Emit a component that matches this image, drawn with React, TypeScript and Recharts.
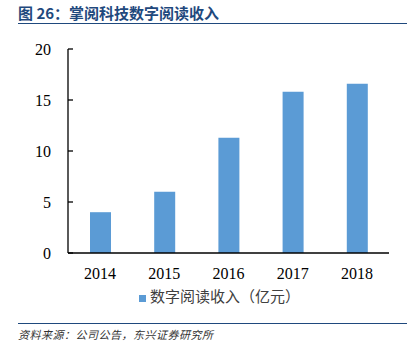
import { Bar, BarChart, Legend, XAxis, YAxis } from "recharts";

const years = ["2014", "2015", "2016", "2017", "2018"];
const revenue = [4.0, 6.0, 11.3, 15.8, 16.6];
const yTicks = [0, 5, 10, 15, 20];

const data = years.map((year, i) => ({ year, revenue: revenue[i] }));

const serif = "'Liberation Serif', 'Times New Roman', serif";
const cjk = "'Noto Sans CJK SC', sans-serif";

export default function App() {
  return (
    <div
      style={{
        position: "absolute",
        left: 0,
        top: 0,
        width: 417,
        height: 355,
        background: "#fff",
        overflow: "hidden",
      }}
    >
      <div
        style={{
          position: "absolute",
          left: 18,
          top: 2,
          fontFamily: cjk,
          fontWeight: 700,
          fontSize: 15,
          color: "#1F497D",
          whiteSpace: "nowrap",
        }}
      >
        图 26：掌阅科技数字阅读收入
      </div>
      <div
        style={{
          position: "absolute",
          left: 18,
          top: 23,
          width: 389,
          height: 0,
          borderTop: "1.5px solid #1F497D",
        }}
      />

      <div style={{ position: "absolute", left: 0, top: 0 }}>
        <BarChart
          width={417}
          height={320}
          data={data}
          margin={{ top: 49, right: 28, bottom: 16, left: 0 }}
        >
          <XAxis
            dataKey="year"
            stroke="#000"
            strokeWidth={1.3}
            tickLine={false}
            tickSize={0}
            tickMargin={15}
            tick={{ fill: "#000", fontFamily: serif, fontSize: 16 }}
          />
          <YAxis
            width={68}
            domain={[0, 20]}
            ticks={yTicks}
            interval={0}
            stroke="#000"
            strokeWidth={1.3}
            tickSize={-5}
            tickMargin={22}
            tick={{ fill: "#000", fontFamily: serif, fontSize: 16 }}
          />
          <Legend
            verticalAlign="bottom"
            iconType="square"
            iconSize={7}
            wrapperStyle={{ top: 285, left: 139, width: "auto" }}
            formatter={() => (
              <span style={{ color: "#404040", fontFamily: cjk, fontSize: 15 }}>
                数字阅读收入（亿元）
              </span>
            )}
          />
          <Bar
            dataKey="revenue"
            name="数字阅读收入（亿元）"
            fill="#5B9BD5"
            barSize={21}
            isAnimationActive={false}
          />
        </BarChart>
      </div>

      <div
        style={{
          position: "absolute",
          left: 18,
          top: 323,
          width: 389,
          height: 0,
          borderTop: "1.5px solid #1F497D",
        }}
      />
      <div
        style={{
          position: "absolute",
          left: 18,
          top: 326,
          fontFamily: cjk,
          fontStyle: "italic",
          fontSize: 11,
          letterSpacing: 0.5,
          color: "#333",
          whiteSpace: "nowrap",
        }}
      >
        资料来源：公司公告，东兴证券研究所
      </div>
    </div>
  );
}
